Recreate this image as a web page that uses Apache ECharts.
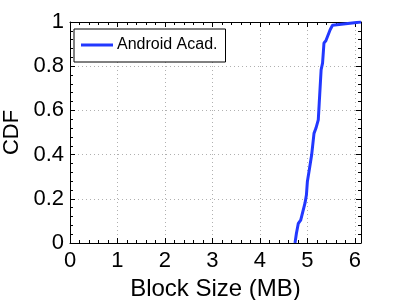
<!DOCTYPE html>
<html>
<head>
<meta charset="utf-8">
<script src="https://cdn.jsdelivr.net/npm/echarts@6/dist/echarts.min.js"></script>
<style>
html,body{margin:0;padding:0;background:#fff;}
#c{width:399px;height:300px;}
</style>
</head>
<body>
<div id="c"></div>
<script>
// Data
var seriesName = 'Android Acad.';
var blockSizeMB = [4.74, 4.77, 4.81, 4.86, 4.95, 4.98, 5.00, 5.04, 5.09, 5.14, 5.18, 5.23, 5.25, 5.26, 5.29, 5.32, 5.35, 5.39, 5.48, 5.53, 6.13];
var cdfValues   = [0.00, 0.044, 0.089, 0.104, 0.18, 0.217, 0.277, 0.33, 0.398, 0.496, 0.519, 0.557, 0.633, 0.67, 0.784, 0.814, 0.905, 0.915, 0.965, 0.985, 1.00];
var xTicks = [0, 1, 2, 3, 4, 5, 6];
var yTicks = ['0', '0.2', '0.4', '0.6', '0.8', '1'];
var xLabel = 'Block Size (MB)';
var yLabel = 'CDF';

var FONT = 'Liberation Sans, Arial, Helvetica, sans-serif';
var pts = blockSizeMB.map(function (x, i) { return [x, cdfValues[i]]; });

var chart = echarts.init(document.getElementById('c'), null, {renderer: 'canvas'});

function baseAxis(extra) {
  var a = {
    axisLine: {show: true, onZero: false, lineStyle: {color: '#000', width: 1}},
    axisTick: {show: true, inside: true, length: 5, lineStyle: {color: '#000'}},
    minorTick: {show: true, splitNumber: 5, length: 3, lineStyle: {color: '#000'}},
    splitLine: {show: false},
    axisLabel: {show: false}
  };
  for (var k in extra) a[k] = extra[k];
  return a;
}

chart.setOption({
  animation: false,
  backgroundColor: '#fff',
  grid: {left: 70, top: 22, right: 38, bottom: 57, containLabel: false, outerBoundsMode: 'none'},
  legend: {
    show: true,
    left: 74, top: 29,
    orient: 'vertical',
    backgroundColor: '#fff',
    borderColor: '#000',
    borderWidth: 1,
    padding: [8, 8, 9, 7],
    itemWidth: 32,
    itemHeight: 3,
    itemGap: 0,
    icon: 'rect',
    textStyle: {fontFamily: FONT, fontSize: 16, color: '#000', padding: [0, 0, 0, -1]},
    data: [seriesName]
  },
  xAxis: [
    baseAxis({
      type: 'value', min: 0, max: 6.13, interval: 1, position: 'bottom',
      name: xLabel, nameLocation: 'middle', nameGap: 26,
      nameTextStyle: {fontFamily: FONT, fontSize: 24, color: '#000'},
      splitLine: {show: true, lineStyle: {color: '#b0b0b0', type: [1, 3], width: 1}},
      axisLabel: {show: true, margin: 7, fontFamily: FONT, fontSize: 22, color: '#000', showMaxLabel: false,
        formatter: function (v) { return xTicks.indexOf(v) >= 0 ? String(v) : ''; }}
    }),
    baseAxis({type: 'value', min: 0, max: 6.13, interval: 1, position: 'top'})
  ],
  yAxis: [
    baseAxis({
      type: 'value', min: 0, max: 1, interval: 0.2, position: 'left',
      name: yLabel, nameLocation: 'middle', nameGap: 40,
      nameTextStyle: {fontFamily: FONT, fontSize: 22, color: '#000'},
      splitLine: {show: true, lineStyle: {color: '#b0b0b0', type: [1, 3], width: 1}},
      axisLabel: {show: true, margin: 6, fontFamily: FONT, fontSize: 22, color: '#000',
        formatter: function (v) { return yTicks[Math.round(v / 0.2)]; }}
    }),
    baseAxis({type: 'value', min: 0, max: 1, interval: 0.2, position: 'right'})
  ],
  series: [{
    name: seriesName,
    type: 'line',
    xAxisIndex: 0, yAxisIndex: 0,
    data: pts,
    showSymbol: false,
    symbol: 'none',
    lineStyle: {color: '#2238ff', width: 3},
    itemStyle: {color: '#2238ff'},
    z: 5
  }]
});
</script>
</body>
</html>
